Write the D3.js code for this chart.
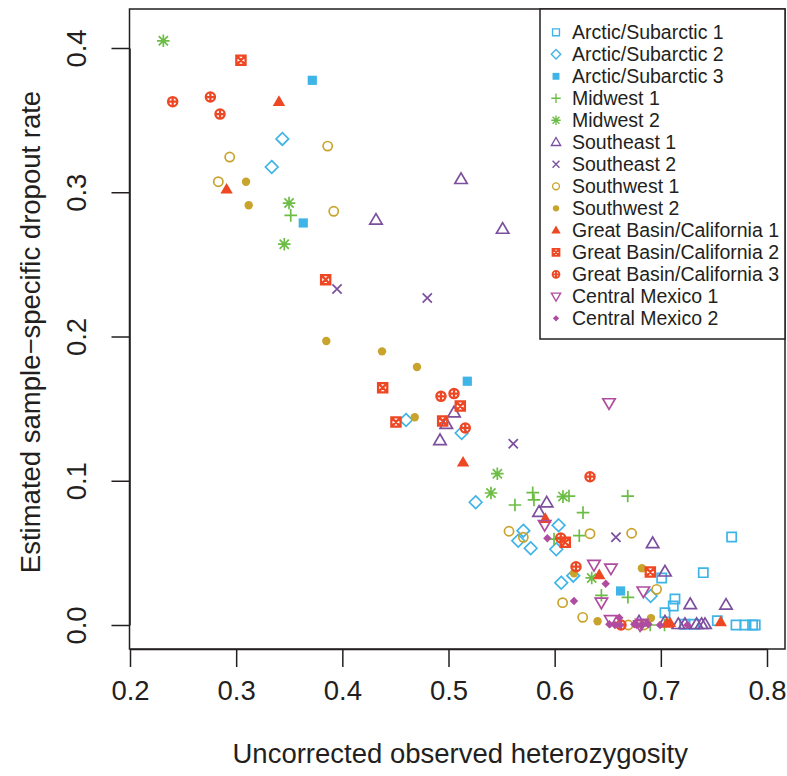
<!DOCTYPE html>
<html>
<head>
<meta charset="utf-8">
<script src="https://cdn.jsdelivr.net/npm/d3@7"></script>
<style>
  html, body { margin: 0; padding: 0; background: #fff; }
  svg { display: block; }
  text { font-family: "Liberation Sans", Arial, Helvetica, sans-serif; fill: #231f20; }
</style>
</head>
<body>
<svg id="chart" width="787" height="776"></svg>
<script>
// Observed heterozygosity (x) vs estimated dropout rate (y), one array per sample group.
const arcticSubarctic1 = [[0.7667,0.061],[0.740,0.0363],[0.7008,0.0326],[0.7133,0.018],[0.7117,0.0132],[0.7039,0.0085],[0.7532,0.003],[0.7708,0.0],[0.7792,0.0],[0.7864,0.0],[0.7889,0.0],[0.7224,0.0005],[0.7314,0.0005]];
const arcticSubarctic2 = [[0.3435,0.337],[0.3335,0.3175],[0.460,0.1421],[0.5124,0.1331],[0.5256,0.0851],[0.5705,0.0654],[0.5657,0.0584],[0.5774,0.0532],[0.6037,0.0691],[0.6015,0.0525],[0.6175,0.0342],[0.6062,0.0293],[0.6904,0.0201]];
const arcticSubarctic3 = [[0.3717,0.3776],[0.3632,0.2787],[0.5177,0.169],[0.6621,0.0236]];
const midwest1 = [[0.3514,0.284],[0.5793,0.0917],[0.5805,0.0867],[0.6135,0.0894],[0.6688,0.0894],[0.5626,0.0832],[0.6267,0.0779],[0.5994,0.0596],[0.6232,0.0619],[0.644,0.0206],[0.669,0.0192],[0.690,0.0],[0.7035,0.0]];
const midwest2 = [[0.2314,0.405],[0.3498,0.2925],[0.3453,0.264],[0.546,0.1049],[0.540,0.0915],[0.6078,0.089],[0.6349,0.0326]];
const southeast1 = [[0.5118,0.309],[0.4317,0.2808],[0.551,0.2745],[0.5052,0.1472],[0.4979,0.1393],[0.492,0.128],[0.5925,0.0848],[0.5853,0.0783],[0.6923,0.0566],[0.7039,0.0369],[0.7277,0.0143],[0.7614,0.0139],[0.6795,0.0023],[0.7039,0.0023],[0.7165,0.0005],[0.7227,0.0005],[0.7337,0.0005],[0.7384,0.0005],[0.7416,0.0005]];
const southeast2 = [[0.395,0.2329],[0.480,0.2267],[0.561,0.1257],[0.6577,0.0608]];
const southwest1 = [[0.3862,0.332],[0.2939,0.3244],[0.2832,0.3073],[0.3919,0.2868],[0.557,0.065],[0.5705,0.0608],[0.6333,0.0633],[0.6725,0.0636],[0.6075,0.0155],[0.6264,0.0053],[0.696,0.0247],[0.6693,0.0],[0.6841,0.0]];
const southwest2 = [[0.3093,0.3073],[0.3118,0.291],[0.3849,0.1969],[0.4374,0.1897],[0.4703,0.1789],[0.4682,0.144],[0.6182,0.0358],[0.6822,0.0393],[0.6404,0.0026],[0.6907,0.0048]];
const greatBasinCalifornia1 = [[0.3403,0.3628],[0.291,0.302],[0.5137,0.1128],[0.5912,0.0737],[0.642,0.0347],[0.7564,0.0021],[0.7055,0.001],[0.7086,0.0015]];
const greatBasinCalifornia2 = [[0.3045,0.3915],[0.3843,0.2394],[0.438,0.1645],[0.5111,0.1518],[0.4505,0.1407],[0.4945,0.1414],[0.610,0.0573],[0.6901,0.0367]];
const greatBasinCalifornia3 = [[0.2402,0.3628],[0.2757,0.366],[0.2848,0.3542],[0.4929,0.1585],[0.5052,0.1604],[0.5158,0.1366],[0.6333,0.1028],[0.6057,0.0603],[0.6201,0.0404],[0.6625,0.0]];
const centralMexico1 = [[0.6512,0.1539],[0.5906,0.0695],[0.637,0.0418],[0.653,0.0393],[0.644,0.0157],[0.6835,0.0234],[0.6528,0.0035],[0.6804,0.0],[0.682,0.001]];
const centralMexico2 = [[0.5931,0.0601],[0.6481,0.0286],[0.6182,0.0166],[0.6609,0.005],[0.6515,0.0005],[0.6568,0.0],[0.6615,0.0],[0.675,0.0005],[0.6773,0.0],[0.6819,0.0],[0.6883,0.0005],[0.6992,0.0],[0.725,0.0]];

const seriesNames = ["Arctic/Subarctic 1","Arctic/Subarctic 2","Arctic/Subarctic 3","Midwest 1","Midwest 2","Southeast 1","Southeast 2","Southwest 1","Southwest 2","Great Basin/California 1","Great Basin/California 2","Great Basin/California 3","Central Mexico 1","Central Mexico 2"];
const seriesValues = [arcticSubarctic1, arcticSubarctic2, arcticSubarctic3, midwest1, midwest2, southeast1, southeast2, southwest1, southwest2, greatBasinCalifornia1, greatBasinCalifornia2, greatBasinCalifornia3, centralMexico1, centralMexico2];
const seriesShapes = ["square","diamond","squareFilled","plus","asterisk","triangleUp","cross","circle","circleFilled","triangleFilled","squareX","circlePlus","triangleDown","diamondFilled"];
const seriesColors = ["#3fb4e6","#3fb4e6","#3fb4e6","#6cbd45","#6cbd45","#7b4f9e","#7b4f9e","#c9a42c","#c9a42c","#ee4724","#ee4724","#ee4724","#b04c9f","#b04c9f"];

const xTicks = [0.2, 0.3, 0.4, 0.5, 0.6, 0.7, 0.8];
const yTicks = [0.0, 0.1, 0.2, 0.3, 0.4];
const xTitle = "Uncorrected observed heterozygosity";
const yTitle = "Estimated sample\u2212specific dropout rate";

const svg = d3.select("#chart");
const ink = "#231f20";
const box = { left: 129.5, top: 9, right: 785, bottom: 649 };
const labelSize = 27.5;

const x = d3.scaleLinear().domain([0.2, 0.8]).range([130, 767]);
const y = d3.scaleLinear().domain([0, 0.4]).range([625, 48]);

// Marker outlines, centred on the origin; k scales the marker.
function markerPath(shape, k) {
  const p = d3.path();
  const s = 4.6 * k;
  switch (shape) {
    case "square": case "squareFilled": case "squareX":
      p.rect(-s, -s, 2 * s, 2 * s);
      if (shape === "squareX") { p.moveTo(-s, -s); p.lineTo(s, s); p.moveTo(s, -s); p.lineTo(-s, s); }
      break;
    case "diamond": case "diamondFilled": {
      const d = shape === "diamond" ? 6.3 * k : 4.2 * k;
      p.moveTo(0, -d); p.lineTo(d, 0); p.lineTo(0, d); p.lineTo(-d, 0); p.closePath();
      break;
    }
    case "plus": {
      const d = 6.3 * k;
      p.moveTo(-d, 0); p.lineTo(d, 0); p.moveTo(0, -d); p.lineTo(0, d);
      break;
    }
    case "cross": {
      const d = 4.6 * k;
      p.moveTo(-d, -d); p.lineTo(d, d); p.moveTo(d, -d); p.lineTo(-d, d);
      break;
    }
    case "asterisk": {
      const d = 6.3 * k, e = 4.6 * k;
      p.moveTo(-d, 0); p.lineTo(d, 0); p.moveTo(0, -d); p.lineTo(0, d);
      p.moveTo(-e, -e); p.lineTo(e, e); p.moveTo(e, -e); p.lineTo(-e, e);
      break;
    }
    case "triangleUp": case "triangleFilled": case "triangleDown": {
      const w = 6.2 * k, h = 10.6 * k;
      const dir = shape === "triangleDown" ? -1 : 1;
      p.moveTo(0, -dir * h * 0.6); p.lineTo(w, dir * h * 0.4); p.lineTo(-w, dir * h * 0.4); p.closePath();
      break;
    }
    case "circle": case "circlePlus": {
      const r = 4.6 * k;
      p.moveTo(r, 0); p.arc(0, 0, r, 0, 2 * Math.PI);
      if (shape === "circlePlus") { p.moveTo(-r, 0); p.lineTo(r, 0); p.moveTo(0, -r); p.lineTo(0, r); }
      break;
    }
    case "circleFilled": {
      const r = 4.2 * k;
      p.moveTo(r, 0); p.arc(0, 0, r, 0, 2 * Math.PI);
      break;
    }
  }
  return p.toString();
}

const filledShapes = new Set(["squareFilled", "diamondFilled", "triangleFilled", "circleFilled"]);
function styleMarker(sel, shape, color, k) {
  const filled = filledShapes.has(shape);
  const heavy = shape === "squareX" || shape === "circlePlus";
  sel.attr("d", markerPath(shape, k))
    .attr("fill", filled ? color : "none")
    .attr("stroke", filled ? "none" : color)
    .attr("stroke-width", (heavy ? 2.3 : 1.7) * Math.max(k, 0.8))
    .attr("stroke-linejoin", "miter");
}

// Points
const plot = svg.append("g");
seriesValues.forEach((pts, i) => {
  plot.append("g").selectAll("path").data(pts).join("path")
    .attr("transform", d => `translate(${x(d[0])},${y(d[1])})`)
    .each(function () { styleMarker(d3.select(this), seriesShapes[i], seriesColors[i], 1); });
});

// Axes
const xAxis = svg.append("g").attr("transform", `translate(0,${box.bottom})`)
  .call(d3.axisBottom(x).tickValues(xTicks).tickFormat(d3.format(".1f")).tickSize(18).tickSizeOuter(0).tickPadding(13));
const yAxis = svg.append("g").attr("transform", `translate(${box.left},0)`)
  .call(d3.axisLeft(y).tickValues(yTicks).tickFormat(d3.format(".1f")).tickSize(18).tickSizeOuter(0));
[xAxis, yAxis].forEach(a => {
  a.selectAll(".domain").attr("stroke", ink).attr("stroke-width", 1.5);
  a.selectAll(".tick line").attr("stroke", ink).attr("stroke-width", 1.5);
  a.selectAll(".tick text").attr("font-size", labelSize).attr("fill", ink)
    .attr("font-family", '"Liberation Sans", Arial, sans-serif');
});
yAxis.selectAll(".tick text")
  .attr("x", null).attr("dy", null)
  .attr("text-anchor", "middle")
  .attr("transform", "translate(-44,0) rotate(-90)");

// Plot frame
svg.append("rect")
  .attr("x", box.left).attr("y", box.top)
  .attr("width", box.right - box.left).attr("height", box.bottom - box.top)
  .attr("fill", "none").attr("stroke", ink).attr("stroke-width", 1.5);

// Axis titles
svg.append("text").attr("x", (box.left + box.right) / 2 + 3).attr("y", 763)
  .attr("text-anchor", "middle").attr("font-size", labelSize).text(xTitle);
svg.append("text").attr("transform", `translate(40,${(box.top + box.bottom) / 2 + 3}) rotate(-90)`)
  .attr("text-anchor", "middle").attr("font-size", labelSize).text(yTitle);

// Legend
const legend = svg.append("g");
legend.append("rect").attr("x", 540).attr("y", box.top).attr("width", box.right - 540).attr("height", 330)
  .attr("fill", "#fff").attr("stroke", ink).attr("stroke-width", 1.5);
seriesNames.forEach((name, i) => {
  const cy = 32.3 + i * 22;
  legend.append("path").attr("transform", `translate(556,${cy})`)
    .call(sel => styleMarker(sel, seriesShapes[i], seriesColors[i], 0.75));
  legend.append("text").attr("x", 572).attr("y", cy).attr("dy", "0.36em")
    .attr("font-size", 19.5).text(name);
});
</script>
</body>
</html>
